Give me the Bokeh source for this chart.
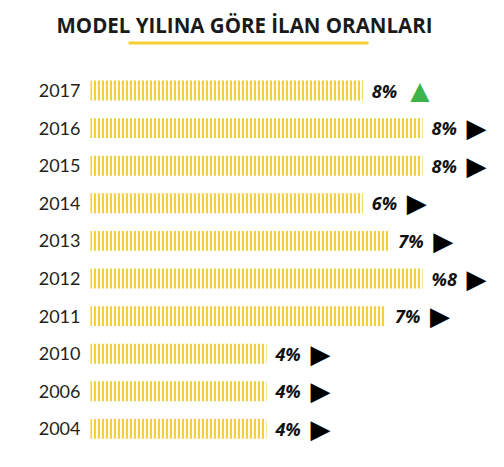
from bokeh.plotting import figure
from bokeh.models import ColumnDataSource, Range1d, Label, BoxAnnotation
from bokeh.core.properties import value
from bokeh.embed import file_html
from bokeh.resources import INLINE

# ---- data ----
years = ["2017", "2016", "2015", "2014", "2013", "2012", "2011", "2010", "2006", "2004"]
bar_length = [82, 100, 100, 82, 90, 100, 89, 53, 53, 53]
value_labels = ["8%", "8%", "8%", "6%", "7%", "%8", "7%", "4%", "4%", "4%"]
trend = ["up", "flat", "flat", "flat", "flat", "flat", "flat", "flat", "flat", "flat"]
title_text = "MODEL YILINA GÖRE İLAN ORANLARI"

YELLOW = "#f4cf35"
GREEN = "#3cb44b"

row = list(range(len(years)))  # row order from top

src = ColumnDataSource(dict(
    row=row, year=years, length=bar_length, label=value_labels,
    zero=[0] * len(years),
    arrow=["▲" if t == "up" else "▶" for t in trend],
    arrow_color=[GREEN if t == "up" else "#000000" for t in trend],
    arrow_off=[57 if t == "up" else 54 for t in trend],
    arrow_size=["25px" if t == "up" else "26px" for t in trend],
))

W, H = 504, 467
PX_X = 3.32    # pixels per bar unit
PX_Y = 37.6    # pixels per row
X0, Y0 = 90, 90  # pixel position of bar origin / first row centre

p = figure(width=W, height=H, output_backend="svg", toolbar_location=None,
           x_range=Range1d(-X0 / PX_X, (W - X0) / PX_X),
           y_range=Range1d((H - Y0) / PX_Y, -Y0 / PX_Y),
           min_border=0)

p.hbar(y="row", left="zero", right="length", height=0.53, source=src,
       fill_alpha=0, line_alpha=0,
       hatch_pattern="vertical_line", hatch_color=YELLOW, hatch_scale=4, hatch_weight=2.2)

p.text(x="zero", y="row", text="year", source=src, x_offset=-10,
       text_font=value("Lato"), text_font_size="18px",
       text_color="#231f20", text_align="right", text_baseline="middle")

p.text(x="length", y="row", text="label", source=src, x_offset=9,
       text_font=value("Open Sans"), text_font_style="bold italic", text_font_size="18px",
       text_color="#111111", text_align="left", text_baseline="middle")

p.text(x="length", y="row", text="arrow", source=src, x_offset="arrow_off",
       text_font=value("DejaVu Sans"), text_font_size="arrow_size",
       text_color="arrow_color", text_align="center", text_baseline="middle")

p.axis.visible = False
p.grid.visible = False
p.outline_line_color = None
p.background_fill_color = "white"
p.border_fill_color = "white"

p.add_layout(Label(x=244, y=H - 24, x_units="screen", y_units="screen", text=title_text,
                   text_font="Open Sans", text_font_style="bold", text_font_size="20.5px",
                   text_color="#1a1a1a", text_align="center", text_baseline="alphabetic"))
p.add_layout(BoxAnnotation(left=128, right=368, bottom=H - 44, top=H - 41,
                           left_units="screen", right_units="screen",
                           bottom_units="screen", top_units="screen",
                           fill_color=YELLOW, fill_alpha=1, line_color=None))

open("out.html", "w").write(file_html(p, INLINE))
